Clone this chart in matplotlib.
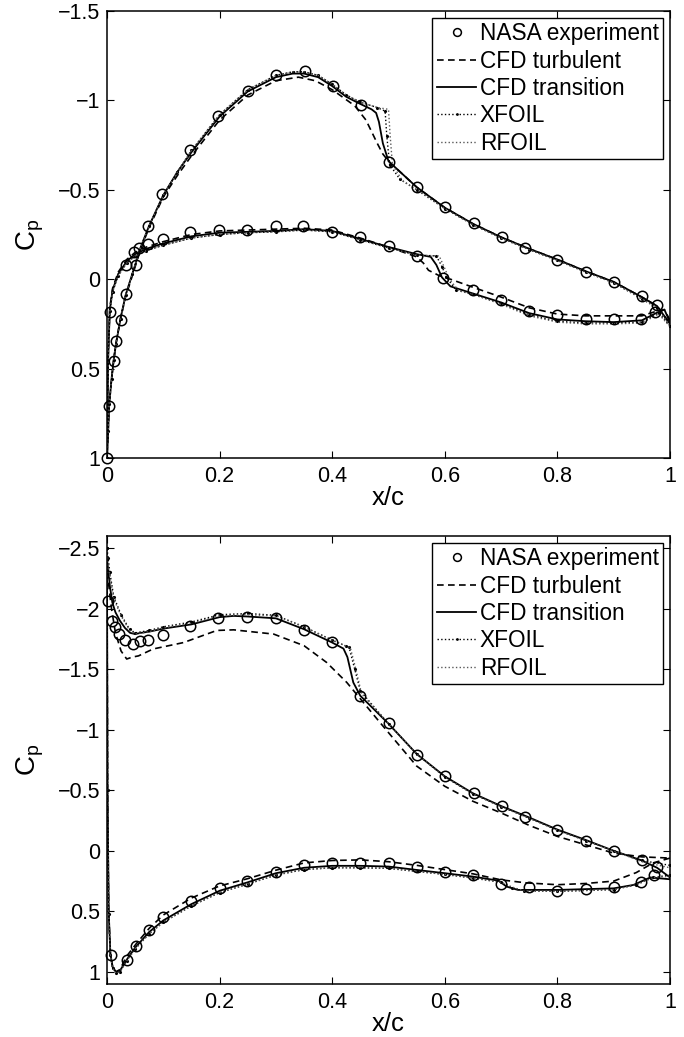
import numpy as np
import matplotlib
matplotlib.use("Agg")
import matplotlib.pyplot as plt

plt.rcParams['font.family'] = ['Liberation Sans', 'DejaVu Sans']
plt.rcParams['mathtext.fontset'] = 'custom'
plt.rcParams['mathtext.rm'] = 'Liberation Sans'
plt.rcParams['mathtext.it'] = 'Liberation Sans:italic'

LABELS = ["NASA experiment", "CFD turbulent", "CFD transition", "XFOIL", "RFOIL"]
X_TICKS = [0, 0.2, 0.4, 0.6, 0.8, 1]
X_TICK_LABELS = ["0", "0.2", "0.4", "0.6", "0.8", "1"]
TOP_Y_TICKS = [-1.5, -1, -0.5, 0, 0.5, 1]
TOP_Y_TICK_LABELS = ["\u22121.5", "\u22121", "\u22120.5", "0", "0.5", "1"]
BOT_Y_TICKS = [-2.5, -2, -1.5, -1, -0.5, 0, 0.5, 1]
BOT_Y_TICK_LABELS = ["\u22122.5", "\u22122", "\u22121.5", "\u22121", "\u22120.5", "0", "0.5", "1"]

# ---------------- top case ----------------
# experiment, branch A (low suction) and branch B (high suction)
top_exp_xa = [0.005, 0.034, 0.048, 0.057, 0.073, 0.100, 0.148, 0.199, 0.249, 0.300, 0.349,
              0.399, 0.449, 0.500, 0.550, 0.597, 0.650, 0.699, 0.750, 0.799, 0.850, 0.900,
              0.948, 0.973]
top_exp_cpa = [0.183, -0.082, -0.150, -0.176, -0.196, -0.224, -0.266, -0.275, -0.275, -0.300,
               -0.300, -0.266, -0.234, -0.187, -0.129, -0.004, 0.062, 0.114, 0.178, 0.202,
               0.221, 0.221, 0.221, 0.183]
top_exp_xb = [0.0, 0.004, 0.012, 0.016, 0.024, 0.033, 0.0515, 0.073, 0.098, 0.148, 0.198,
              0.251, 0.301, 0.352, 0.401, 0.451, 0.500, 0.550, 0.600, 0.651, 0.701, 0.742,
              0.800, 0.850, 0.900, 0.950, 0.977]
top_exp_cpb = [1.0, 0.707, 0.455, 0.346, 0.226, 0.080, -0.079, -0.297, -0.475, -0.72, -0.915,
               -1.05, -1.14, -1.163, -1.083, -0.976, -0.653, -0.515, -0.406, -0.312, -0.234,
               -0.176, -0.107, -0.041, 0.015, 0.094, 0.146]

# CFD transition
top_tr_xa = [0.0, 0.002, 0.005, 0.010, 0.020, 0.035, 0.050, 0.070, 0.100, 0.150, 0.200, 0.250,
             0.300, 0.350, 0.400, 0.450, 0.500, 0.550, 0.575, 0.585, 0.595, 0.610, 0.650,
             0.700, 0.750, 0.800, 0.850, 0.900, 0.950, 0.975, 0.990, 1.0]
top_tr_cpa = [1.0, 0.45, 0.17, 0.06, -0.03, -0.10, -0.14, -0.17, -0.20, -0.24, -0.26, -0.265,
              -0.27, -0.28, -0.27, -0.225, -0.18, -0.14, -0.125, -0.08, -0.01, 0.04, 0.08,
              0.13, 0.19, 0.225, 0.235, 0.24, 0.23, 0.19, 0.17, 0.24]
top_tr_xb = [0.0, 0.002, 0.004, 0.008, 0.012, 0.016, 0.024, 0.033, 0.045, 0.060, 0.075, 0.100,
             0.125, 0.150, 0.200, 0.250, 0.300, 0.330, 0.350, 0.375, 0.400, 0.425, 0.450,
             0.470, 0.478, 0.483, 0.490, 0.500, 0.550, 0.600, 0.650, 0.700, 0.750, 0.800,
             0.850, 0.900, 0.950, 0.977, 1.0]
top_tr_cpb = [1.0, 0.85, 0.70, 0.56, 0.45, 0.36, 0.22, 0.09, -0.03, -0.18, -0.30, -0.47,
              -0.60, -0.71, -0.91, -1.05, -1.13, -1.15, -1.15, -1.13, -1.08, -1.02, -0.98,
              -0.95, -0.93, -0.88, -0.76, -0.66, -0.515, -0.40, -0.31, -0.235, -0.17, -0.11,
              -0.045, 0.015, 0.10, 0.15, 0.25]

# CFD turbulent
top_tu_xa = [0.0, 0.002, 0.005, 0.010, 0.020, 0.035, 0.050, 0.070, 0.100, 0.150, 0.200, 0.250,
             0.300, 0.350, 0.400, 0.450, 0.500, 0.550, 0.562, 0.571, 0.590, 0.610, 0.650,
             0.700, 0.750, 0.800, 0.850, 0.900, 0.950, 0.975, 0.990, 1.0]
top_tu_cpa = [1.0, 0.44, 0.16, 0.05, -0.04, -0.11, -0.15, -0.18, -0.21, -0.25, -0.27, -0.275,
              -0.28, -0.285, -0.275, -0.23, -0.18, -0.125, -0.09, -0.05, -0.02, 0.0, 0.045,
              0.10, 0.16, 0.195, 0.205, 0.205, 0.205, 0.18, 0.17, 0.23]
top_tu_xb = [0.0, 0.002, 0.004, 0.008, 0.012, 0.016, 0.024, 0.033, 0.045, 0.060, 0.075, 0.100,
             0.125, 0.150, 0.200, 0.250, 0.300, 0.340, 0.370, 0.400, 0.440, 0.460, 0.480,
             0.490, 0.500, 0.550, 0.600, 0.650, 0.700, 0.750, 0.800, 0.850, 0.900, 0.950,
             0.977, 1.0]
top_tu_cpb = [1.0, 0.85, 0.70, 0.56, 0.45, 0.36, 0.22, 0.10, -0.02, -0.17, -0.29, -0.46,
              -0.58, -0.69, -0.89, -1.03, -1.11, -1.13, -1.11, -1.06, -0.97, -0.89, -0.76,
              -0.70, -0.66, -0.515, -0.40, -0.31, -0.235, -0.17, -0.11, -0.045, 0.015, 0.10,
              0.15, 0.25]

# XFOIL
top_xf_xa = [0.0, 0.002, 0.005, 0.010, 0.020, 0.035, 0.050, 0.070, 0.100, 0.150, 0.200, 0.250,
             0.300, 0.350, 0.400, 0.450, 0.500, 0.550, 0.585, 0.595, 0.603, 0.620, 0.650,
             0.700, 0.750, 0.800, 0.850, 0.900, 0.950, 0.980, 1.0]
top_xf_cpa = [1.0, 0.46, 0.18, 0.07, -0.02, -0.09, -0.13, -0.16, -0.19, -0.23, -0.25, -0.26,
              -0.265, -0.275, -0.265, -0.22, -0.175, -0.135, -0.13, -0.07, -0.01, 0.06, 0.085,
              0.135, 0.20, 0.235, 0.245, 0.245, 0.24, 0.19, 0.26]
top_xf_xb = [0.0, 0.002, 0.004, 0.008, 0.012, 0.016, 0.024, 0.033, 0.045, 0.060, 0.075, 0.100,
             0.125, 0.150, 0.200, 0.250, 0.300, 0.330, 0.350, 0.375, 0.400, 0.425, 0.450,
             0.480, 0.494, 0.497, 0.502, 0.520, 0.550, 0.600, 0.650, 0.700, 0.750, 0.800,
             0.850, 0.900, 0.950, 0.977, 1.0]
top_xf_cpb = [1.0, 0.85, 0.70, 0.56, 0.45, 0.36, 0.22, 0.09, -0.03, -0.18, -0.30, -0.47,
              -0.60, -0.72, -0.92, -1.06, -1.14, -1.16, -1.16, -1.14, -1.09, -1.03, -0.99,
              -0.96, -0.94, -0.80, -0.64, -0.56, -0.50, -0.395, -0.305, -0.23, -0.165, -0.105,
              -0.04, 0.02, 0.11, 0.16, 0.26]

# RFOIL
top_rf_xa = [0.0, 0.002, 0.005, 0.010, 0.020, 0.035, 0.050, 0.070, 0.100, 0.150, 0.200, 0.250,
             0.300, 0.350, 0.400, 0.450, 0.500, 0.550, 0.590, 0.600, 0.608, 0.625, 0.650,
             0.700, 0.750, 0.800, 0.850, 0.900, 0.950, 0.980, 1.0]
top_rf_cpa = [1.0, 0.46, 0.18, 0.07, -0.02, -0.09, -0.13, -0.16, -0.19, -0.23, -0.25, -0.26,
              -0.265, -0.275, -0.265, -0.22, -0.175, -0.135, -0.13, -0.06, 0.0, 0.065, 0.085,
              0.14, 0.205, 0.24, 0.25, 0.25, 0.245, 0.195, 0.265]
top_rf_xb = [0.0, 0.002, 0.004, 0.008, 0.012, 0.016, 0.024, 0.033, 0.045, 0.060, 0.075, 0.100,
             0.125, 0.150, 0.200, 0.250, 0.300, 0.330, 0.350, 0.375, 0.400, 0.425, 0.450,
             0.480, 0.500, 0.503, 0.507, 0.525, 0.550, 0.600, 0.650, 0.700, 0.750, 0.800,
             0.850, 0.900, 0.950, 0.977, 1.0]
top_rf_cpb = [1.0, 0.85, 0.70, 0.56, 0.45, 0.36, 0.22, 0.09, -0.03, -0.18, -0.30, -0.47,
              -0.60, -0.72, -0.92, -1.06, -1.14, -1.16, -1.16, -1.14, -1.09, -1.03, -0.99,
              -0.96, -0.95, -0.80, -0.64, -0.55, -0.50, -0.395, -0.305, -0.23, -0.165, -0.105,
              -0.04, 0.02, 0.11, 0.16, 0.26]

# ---------------- bottom case ----------------
bot_exp_xu = [0.002, 0.0095, 0.014, 0.022, 0.032, 0.047, 0.059, 0.072, 0.099, 0.148, 0.197,
              0.249, 0.300, 0.350, 0.399, 0.450, 0.500, 0.550, 0.600, 0.651, 0.701, 0.742,
              0.800, 0.850, 0.900, 0.950, 0.977]
bot_exp_cpu = [-2.067, -1.90, -1.85, -1.79, -1.745, -1.71, -1.73, -1.745, -1.78, -1.86, -1.926,
               -1.93, -1.92, -1.827, -1.722, -1.28, -1.053, -0.79, -0.616, -0.478, -0.367,
               -0.279, -0.174, -0.085, -0.002, 0.08, 0.135]
bot_exp_xl = [0.0065, 0.035, 0.0515, 0.075, 0.099, 0.149, 0.200, 0.249, 0.300, 0.350, 0.399,
              0.449, 0.500, 0.550, 0.600, 0.650, 0.699, 0.750, 0.799, 0.850, 0.900, 0.948,
              0.972]
bot_exp_cpl = [0.862, 0.898, 0.788, 0.655, 0.55, 0.412, 0.31, 0.246, 0.171, 0.116, 0.097,
               0.097, 0.102, 0.135, 0.171, 0.199, 0.274, 0.296, 0.329, 0.318, 0.301, 0.255,
               0.199]

# CFD transition
bot_tr_xu = [0.0, 0.001, 0.003, 0.005, 0.0095, 0.015, 0.023, 0.032, 0.041, 0.050, 0.060,
             0.075, 0.100, 0.150, 0.200, 0.225, 0.250, 0.300, 0.350, 0.400, 0.420, 0.427,
             0.4375, 0.450, 0.500, 0.550, 0.600, 0.650, 0.700, 0.750, 0.800, 0.850, 0.900,
             0.950, 0.977, 1.0]
bot_tr_cpu = [-2.40, -2.36, -2.28, -2.19, -2.05, -1.97, -1.90, -1.84, -1.80, -1.79, -1.80,
              -1.81, -1.835, -1.87, -1.93, -1.94, -1.935, -1.92, -1.83, -1.72, -1.67, -1.60,
              -1.39, -1.28, -1.05, -0.80, -0.615, -0.475, -0.37, -0.275, -0.175, -0.09, 0.0,
              0.08, 0.14, 0.22]
bot_tr_xl = [0.0, 0.001, 0.003, 0.006, 0.010, 0.016, 0.023, 0.035, 0.050, 0.075, 0.100,
             0.150, 0.200, 0.250, 0.300, 0.350, 0.400, 0.450, 0.500, 0.550, 0.600, 0.650,
             0.695, 0.710, 0.730, 0.800, 0.900, 0.935, 0.965, 1.0]
bot_tr_cpl = [-2.40, -0.50, 0.50, 0.85, 0.96, 1.0, 0.99, 0.90, 0.80, 0.67, 0.575, 0.44, 0.33,
              0.26, 0.185, 0.14, 0.124, 0.124, 0.13, 0.158, 0.185, 0.213, 0.246, 0.296,
              0.323, 0.323, 0.31, 0.282, 0.22, 0.235]

# CFD turbulent
bot_tu_xu = [0.0, 0.003, 0.008, 0.015, 0.025, 0.035, 0.045, 0.056, 0.082, 0.136, 0.195,
             0.225, 0.296, 0.350, 0.390, 0.426, 0.485, 0.500, 0.550, 0.600, 0.650, 0.700,
             0.750, 0.800, 0.900, 0.950, 1.0]
bot_tu_cpu = [-2.40, -2.20, -2.00, -1.80, -1.65, -1.584, -1.60, -1.61, -1.667, -1.72, -1.82,
              -1.825, -1.79, -1.694, -1.556, -1.39, -1.059, -0.976, -0.70, -0.533, -0.409,
              -0.313, -0.21, -0.119, 0.019, 0.05, 0.06]
bot_tu_xl = [0.0, 0.001, 0.003, 0.006, 0.010, 0.016, 0.023, 0.035, 0.0515, 0.075, 0.100,
             0.150, 0.200, 0.250, 0.300, 0.350, 0.400, 0.450, 0.500, 0.550, 0.600, 0.650,
             0.700, 0.745, 0.800, 0.850, 0.900, 0.940, 0.970, 1.0]
bot_tu_cpl = [-2.40, -0.50, 0.50, 0.85, 0.96, 1.0, 0.98, 0.87, 0.77, 0.64, 0.53, 0.39, 0.29,
              0.23, 0.16, 0.10, 0.08, 0.075, 0.09, 0.12, 0.155, 0.19, 0.24, 0.265, 0.28,
              0.27, 0.25, 0.18, 0.10, 0.06]

# XFOIL
bot_xf_xu = [0.0, 0.002, 0.005, 0.012, 0.025, 0.040, 0.050, 0.075, 0.100, 0.150, 0.200,
             0.250, 0.300, 0.350, 0.400, 0.425, 0.430, 0.440, 0.450, 0.500, 0.550, 0.600,
             0.650, 0.700, 0.750, 0.800, 0.850, 0.900, 0.950, 1.0]
bot_xf_cpu = [-2.50, -2.42, -2.30, -2.10, -1.95, -1.83, -1.80, -1.82, -1.85, -1.89, -1.95,
              -1.96, -1.945, -1.85, -1.74, -1.69, -1.68, -1.50, -1.32, -1.05, -0.80, -0.61,
              -0.47, -0.365, -0.27, -0.17, -0.085, 0.0, 0.08, 0.12]
bot_xf_xl = [0.0, 0.001, 0.003, 0.006, 0.010, 0.016, 0.023, 0.035, 0.050, 0.075, 0.100,
             0.150, 0.200, 0.250, 0.300, 0.350, 0.400, 0.450, 0.500, 0.550, 0.600, 0.650,
             0.700, 0.720, 0.740, 0.800, 0.900, 0.940, 0.970, 1.0]
bot_xf_cpl = [-2.50, -0.50, 0.52, 0.86, 0.97, 1.01, 1.0, 0.91, 0.81, 0.685, 0.59, 0.455,
              0.345, 0.275, 0.20, 0.155, 0.14, 0.14, 0.145, 0.17, 0.195, 0.225, 0.26, 0.305,
              0.33, 0.335, 0.32, 0.28, 0.22, 0.20]

# RFOIL
bot_rf_xu = [0.0, 0.002, 0.005, 0.012, 0.025, 0.040, 0.050, 0.075, 0.100, 0.150, 0.200,
             0.250, 0.300, 0.350, 0.400, 0.425, 0.432, 0.442, 0.452, 0.500, 0.550, 0.600,
             0.650, 0.700, 0.750, 0.800, 0.850, 0.900, 0.950, 1.0]
bot_rf_cpu = [-2.45, -2.38, -2.27, -2.08, -1.94, -1.82, -1.79, -1.81, -1.84, -1.88, -1.94,
              -1.95, -1.94, -1.85, -1.74, -1.69, -1.68, -1.50, -1.30, -1.05, -0.80, -0.61,
              -0.47, -0.365, -0.27, -0.17, -0.085, 0.0, 0.09, 0.14]
bot_rf_xl = [0.0, 0.001, 0.003, 0.006, 0.010, 0.016, 0.023, 0.035, 0.050, 0.075, 0.100,
             0.150, 0.200, 0.250, 0.300, 0.350, 0.400, 0.450, 0.500, 0.550, 0.600, 0.650,
             0.700, 0.720, 0.740, 0.800, 0.900, 0.940, 0.970, 1.0]
bot_rf_cpl = [-2.45, -0.50, 0.52, 0.86, 0.97, 1.01, 1.0, 0.91, 0.81, 0.685, 0.59, 0.455,
              0.345, 0.275, 0.20, 0.155, 0.14, 0.14, 0.145, 0.17, 0.195, 0.225, 0.26, 0.30,
              0.33, 0.335, 0.32, 0.28, 0.22, 0.21]


def loop(xa, cpa, xb, cpb):
    '''Join the two branches into one curve running round the airfoil.'''
    x = np.concatenate([np.asarray(xa)[::-1], np.asarray(xb)])
    cp = np.concatenate([np.asarray(cpa)[::-1], np.asarray(cpb)])
    return x, cp


def draw_panel(ax, exp, turb, trans, xfoil, rfoil, yticks, yticklabels, ylim):
    '''Draw one Cp distribution panel in the Matlab look.'''
    ax.plot(*loop(*exp), linestyle='none', marker='o', markersize=7.5,
            markerfacecolor='none', markeredgecolor='k', markeredgewidth=1.1,
            label=LABELS[0], zorder=5, clip_on=False)
    ax.plot(*loop(*turb), color='k', linestyle='--', dashes=(4, 2.6), lw=1.2,
            label=LABELS[1])
    ax.plot(*loop(*trans), color='k', linestyle='-', lw=1.3, label=LABELS[2])
    ax.plot(*loop(*xfoil), color='k', linestyle=':', lw=1.0, marker='.',
            markersize=2.5, label=LABELS[3])
    ax.plot(*loop(*rfoil), color='0.35', linestyle=':', lw=1.0, label=LABELS[4])

    ax.set_xlim(0, 1)
    ax.set_ylim(ylim[1], ylim[0])
    ax.set_xticks(X_TICKS)
    ax.set_xticklabels(X_TICK_LABELS)
    ax.set_yticks(yticks)
    ax.set_yticklabels(yticklabels)
    ax.tick_params(direction='in', length=5, width=0.8, labelsize=15.5,
                   top=True, right=True, pad=5)
    ax.tick_params(axis='x', pad=6)
    for sp in ax.spines.values():
        sp.set_linewidth(1.1)
    ax.set_xlabel('x/c', fontsize=18.5, labelpad=-1)
    ax.set_ylabel(r'C$_\mathrm{p}$', fontsize=20, labelpad=8)

    leg = ax.legend(loc='upper right', fontsize=16.3, frameon=True, fancybox=False,
                    edgecolor='k', framealpha=1, borderaxespad=0.3, borderpad=0.2,
                    handlelength=1.75, handletextpad=0.15, labelspacing=0.19,
                    numpoints=1, markerscale=0.75)
    leg.get_frame().set_linewidth(1.0)


def main():
    '''Main Driver Function'''
    fig = plt.figure(figsize=(6.84, 10.37), dpi=100)
    ax_top = fig.add_axes([107 / 684, 1 - 458 / 1037, 563 / 684, 447 / 1037])
    ax_bot = fig.add_axes([107 / 684, 1 - 984 / 1037, 563 / 684, 448 / 1037])

    draw_panel(ax_top,
               (top_exp_xa, top_exp_cpa, top_exp_xb, top_exp_cpb),
               (top_tu_xa, top_tu_cpa, top_tu_xb, top_tu_cpb),
               (top_tr_xa, top_tr_cpa, top_tr_xb, top_tr_cpb),
               (top_xf_xa, top_xf_cpa, top_xf_xb, top_xf_cpb),
               (top_rf_xa, top_rf_cpa, top_rf_xb, top_rf_cpb),
               TOP_Y_TICKS, TOP_Y_TICK_LABELS, (-1.5, 1.0))
    draw_panel(ax_bot,
               (bot_exp_xl, bot_exp_cpl, bot_exp_xu, bot_exp_cpu),
               (bot_tu_xl, bot_tu_cpl, bot_tu_xu, bot_tu_cpu),
               (bot_tr_xl, bot_tr_cpl, bot_tr_xu, bot_tr_cpu),
               (bot_xf_xl, bot_xf_cpl, bot_xf_xu, bot_xf_cpu),
               (bot_rf_xl, bot_rf_cpl, bot_rf_xu, bot_rf_cpu),
               BOT_Y_TICKS, BOT_Y_TICK_LABELS, (-2.6, 1.1))

    fig.savefig("out.png", dpi=100)


if __name__ == "__main__":
    main()
